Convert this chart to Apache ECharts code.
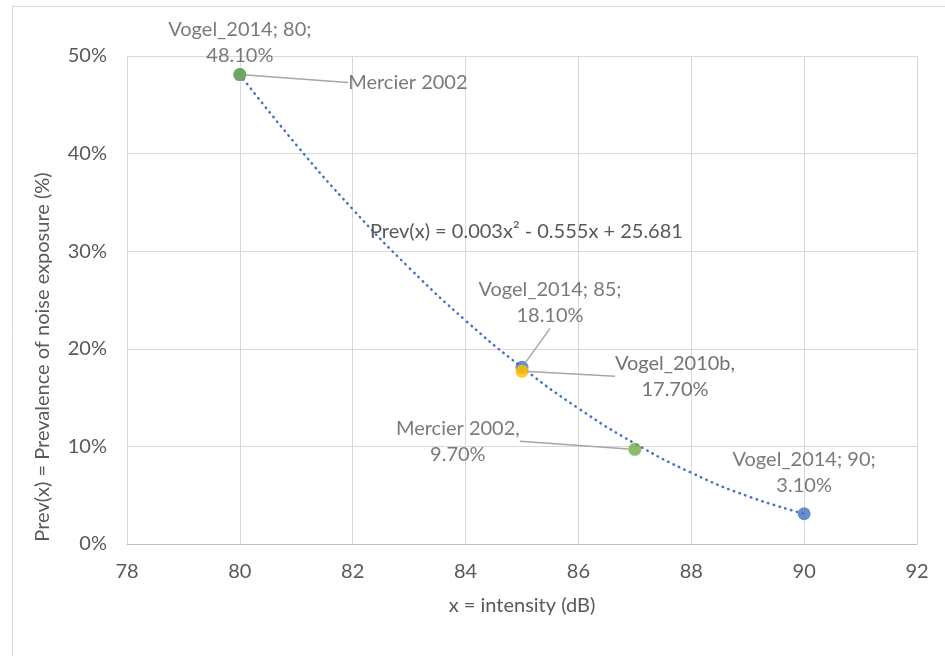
<!DOCTYPE html>
<html><head><meta charset="utf-8">
<script src="https://cdn.jsdelivr.net/npm/echarts@6/dist/echarts.min.js"></script>
<style>html,body{margin:0;padding:0;background:#fff}#c{width:945px;height:656px}</style>
</head><body><div id="c"></div>
<script>
// ---- data ----
const xTicks = [78, 80, 82, 84, 86, 88, 90, 92];
const vogel2014 = [[80, 48.1], [85, 18.1], [90, 3.1]];
const vogel2010b = [[85, 17.7]];
const mercier2002 = [[80, 48.1], [87, 9.7]];
// trendline values
const trendX = [80, 81, 82, 83, 84, 85, 86, 87, 88, 89, 90];
const trendY = [48.1, 40.9, 34.3, 28.3, 22.9, 18.1, 13.9, 10.3, 7.3, 4.9, 3.1];
const vogel2014Labels = ['Vogel_2014; 80;\n48.10%', 'Vogel_2014; 85;\n18.10%', 'Vogel_2014; 90;\n3.10%'];
const vogel2010bLabels = ['Vogel_2010b,\n17.70%'];
const mercierLabels = ['Mercier 2002', 'Mercier 2002,\n9.70%'];
const equation = 'Prev(x) = 0.003x² - 0.555x + 25.681';
const xTitle = 'x = intensity (dB)';
const yTitle = 'Prev(x) = Prevalence of noise exposure (%)';

// ---- style / layout ----
const FONT = 'Lato';
const FS = 20;
const TXT = '#595959';
const labelOffsets = {
  vogel2014: [[0, -32, false], [28, -65, true], [0, -41, false]],
  vogel2010b: [[153, 5, true]],
  mercier: [[168, 8, true], [-177, -8, true]]
};
function mkData(pts, labels, offs) {
  return pts.map((p, i) => ({
    value: p,
    label: { formatter: labels[i] },
    labelLine: { show: offs[i][2] }
  }));
}
function mkLayout(offs) {
  return function (params) {
    const o = offs[params.dataIndex];
    return { dx: o[0], dy: o[1] };
  };
}
const baseLabel = {
  show: true, position: 'inside', color: TXT, fontFamily: FONT, fontSize: FS,
  lineHeight: 26, align: 'center', verticalAlign: 'middle'
};
const baseLabelLine = { lineStyle: { color: '#A6A6A6', width: 1.5 } };

const chart = echarts.init(document.getElementById('c'));
chart.setOption({
  animation: false,
  backgroundColor: '#fff',
  grid: { left: 127, right: 28, top: 56, bottom: 112 },
  graphic: [
    { type: 'rect', shape: { x: 12.5, y: 6.5, width: 960, height: 700 }, style: { fill: 'none', stroke: '#D9D9D9', lineWidth: 1 }, silent: true, z: -10 },
    { type: 'text', left: 370, top: 222, style: { text: equation, fill: TXT, font: FS + 'px "' + FONT + '"' }, z: 10 },
    { type: 'text', x: 43, y: 357, rotation: Math.PI / 2, style: { text: yTitle, fill: TXT, font: FS + 'px "' + FONT + '"', align: 'center', verticalAlign: 'middle' }, z: 10 }
  ],
  xAxis: {
    type: 'value', min: xTicks[0], max: xTicks[xTicks.length - 1], interval: 2,
    name: xTitle, nameLocation: 'middle', nameGap: 52,
    nameTextStyle: { color: TXT, fontFamily: FONT, fontSize: FS },
    axisLine: { show: true, onZero: false, lineStyle: { color: '#BFBFBF', width: 1 } },
    axisTick: { show: false },
    axisLabel: { color: TXT, fontFamily: FONT, fontSize: FS, margin: 18 },
    splitLine: { show: true, lineStyle: { color: '#D9D9D9', width: 1 } }
  },
  yAxis: {
    type: 'value', min: 0, max: 50, interval: 10,
    axisLine: { show: false }, axisTick: { show: false },
    axisLabel: { color: TXT, fontFamily: FONT, fontSize: FS, margin: 20, formatter: '{value}%' },
    splitLine: { show: true, lineStyle: { color: '#D9D9D9', width: 1 } }
  },
  series: [
    {
      type: 'line', name: 'trend', data: trendX.map((x, i) => [x, trendY[i]]), smooth: true,
      showSymbol: false, symbol: 'none', silent: true, z: 3,
      lineStyle: { color: '#4472C4', width: 2.5, type: [0.5, 5.5], cap: 'round' }
    },
    {
      type: 'scatter', name: 'Vogel_2014', symbolSize: 13, z: 4,
      itemStyle: { color: '#4472C4' },
      data: mkData(vogel2014, vogel2014Labels, labelOffsets.vogel2014),
      label: baseLabel, labelLine: baseLabelLine, labelLayout: mkLayout(labelOffsets.vogel2014)
    },
    {
      type: 'scatter', name: 'Vogel_2010b', symbolSize: 13, z: 5,
      itemStyle: { color: '#FFC000', opacity: 0.85 },
      data: mkData(vogel2010b, vogel2010bLabels, labelOffsets.vogel2010b),
      label: baseLabel, labelLine: baseLabelLine, labelLayout: mkLayout(labelOffsets.vogel2010b)
    },
    {
      type: 'scatter', name: 'Mercier 2002', symbolSize: 13, z: 6,
      itemStyle: { color: '#70AD47' },
      data: mkData(mercier2002, mercierLabels, labelOffsets.mercier),
      label: baseLabel, labelLine: baseLabelLine, labelLayout: mkLayout(labelOffsets.mercier)
    }
  ]
});
</script></body></html>
